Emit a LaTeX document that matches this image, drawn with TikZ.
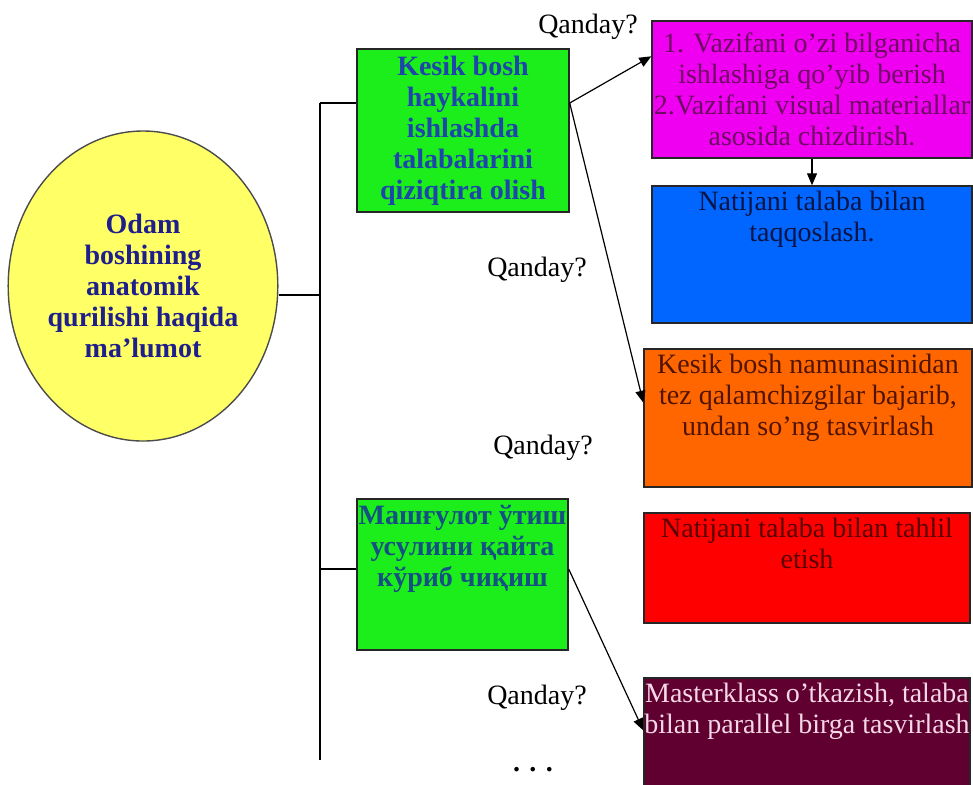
\documentclass[tikz,border=0pt]{standalone}
\usepackage{fontspec}
\setmainfont{Liberation Serif}
\usetikzlibrary{arrows.meta,positioning,shapes.geometric,calc}
\definecolor{ovalYellow}{RGB}{255,255,102}
\definecolor{limeGreen}{RGB}{28,238,28}
\definecolor{boxMagenta}{RGB}{240,0,240}
\definecolor{boxBlue}{RGB}{0,102,255}
\definecolor{boxOrange}{RGB}{255,102,0}
\definecolor{boxRed}{RGB}{255,0,0}
\definecolor{boxMaroon}{RGB}{96,0,48}
\definecolor{ovalText}{RGB}{30,30,140}
\definecolor{kesikText}{RGB}{30,70,170}
\definecolor{mashText}{RGB}{20,80,130}
\definecolor{magText}{RGB}{110,10,100}
\definecolor{blueText}{RGB}{10,20,70}
\definecolor{orngText}{RGB}{80,20,0}
\definecolor{redText}{RGB}{90,0,0}
\definecolor{mrnText}{RGB}{245,215,230}

\begin{document}
\begin{tikzpicture}[x=0.5pt,y=-0.5pt,
  box/.style={draw=black!85,line width=0.7pt,inner sep=0pt,align=center},
  txt/.style={align=center,inner sep=2.5pt,font=\fontsize{14}{15.5}\selectfont},
  bold/.style={font=\fontsize{14}{15.5}\selectfont\bfseries},
  link/.style={line width=0.6pt},
  arrow/.style={-{Triangle[length=6pt,width=5pt]},line width=0.6pt}
]
  \useasboundingbox (0,0) rectangle (973,784);
  \clip (0,0) rectangle (973,784);

  \node[ellipse,draw=black!70,line width=0.7pt,fill=ovalYellow,inner sep=0pt,
        minimum width=133pt,minimum height=155pt,align=center,bold,text=ovalText]
        (oval) at (143,286) {Odam\\boshining\\anatomik\\qurilishi haqida\\ma'lumot};

  \node[box,fill=limeGreen,minimum width=106pt,minimum height=81.5pt,bold,text=kesikText]
        (kesik) at (463,130.5) {Kesik bosh\\haykalini\\ishlashda\\talabalarini\\qiziqtira olish};
  \node[box,fill=limeGreen,minimum width=105.5pt,minimum height=75.5pt] (mash) at (462.5,574.5) {};
  \node[bold,align=center,inner sep=3.5pt,text=mashText,below=0pt of mash.north] (mashTxt)
        {Машғулот ўтиш\\усулини қайта\\кўриб чиқиш};

  \node[box,fill=boxMagenta,minimum width=160pt,minimum height=68.5pt,txt,inner sep=0pt,text=magText]
        (mag) at (812,89.5) {1. Vazifani o'zi bilganicha\\ishlashiga qo'yib berish\\2.Vazifani visual materiallar\\asosida chizdirish.};
  \node[box,fill=boxBlue,minimum width=160pt,minimum height=68.5pt] (blue) at (812,254.5) {};
  \node[txt,text=blueText,below=0pt of blue.north] (blueTxt) {Natijani talaba bilan\\taqqoslash.};
  \node[box,fill=boxOrange,minimum width=164pt,minimum height=69pt] (orng) at (808,418) {};
  \node[txt,text=orngText,below=0pt of orng.north] (orngTxt) {Kesik bosh namunasinidan\\tez qalamchizgilar bajarib,\\undan so'ng tasvirlash};
  \node[box,fill=boxRed,minimum width=163pt,minimum height=55pt] (red) at (807,568) {};
  \node[txt,text=redText,below=0pt of red.north] (redTxt) {Natijani talaba bilan tahlil\\etish};
  \node[box,fill=boxMaroon,minimum width=163pt,minimum height=61pt] (mrn) at (807,739) {};
  \node[txt,text=mrnText,below=0pt of mrn.north] (mrnTxt) {Masterklass o'tkazish, talaba\\bilan parallel birga tasvirlash};

  \node[txt] (q1) at (588,27) {Qanday?};
  \node[txt] (q2) at (537,270) {Qanday?};
  \node[txt] (q3) at (543,448) {Qanday?};
  \node[txt] (q4) at (537,698) {Qanday?};
  \node[txt,font=\fontsize{14}{15.5}\selectfont\bfseries] (dots) at (533,770) {.\,\,.\,\,.};

  % trunk and branches
  \coordinate (tTop) at (320,103);
  \coordinate (tMid) at (320,295);
  \coordinate (tLow) at (320,569);
  \coordinate (tEnd) at (320,760);
  \draw[link] (tTop) -- (tEnd);
  \draw[link] (tTop) -- (tTop -| kesik.west);
  \draw[link] (oval.east |- tMid) -- (tMid);
  \draw[link] (tLow) -- (tLow -| mash.west);

  \draw[arrow] (tTop -| kesik.east) -- ($(mag.north west)!0.26!(mag.south west)$);
  \draw[arrow] (tTop -| kesik.east) -- ($(orng.north west)!0.39!(orng.south west)$);
  \draw[arrow] (mag.south) -- (blue.north);
  \draw[arrow] (tLow -| mash.east) -- ($(mrn.north west)!0.43!(mrn.south west)$);
\end{tikzpicture}
\end{document}
